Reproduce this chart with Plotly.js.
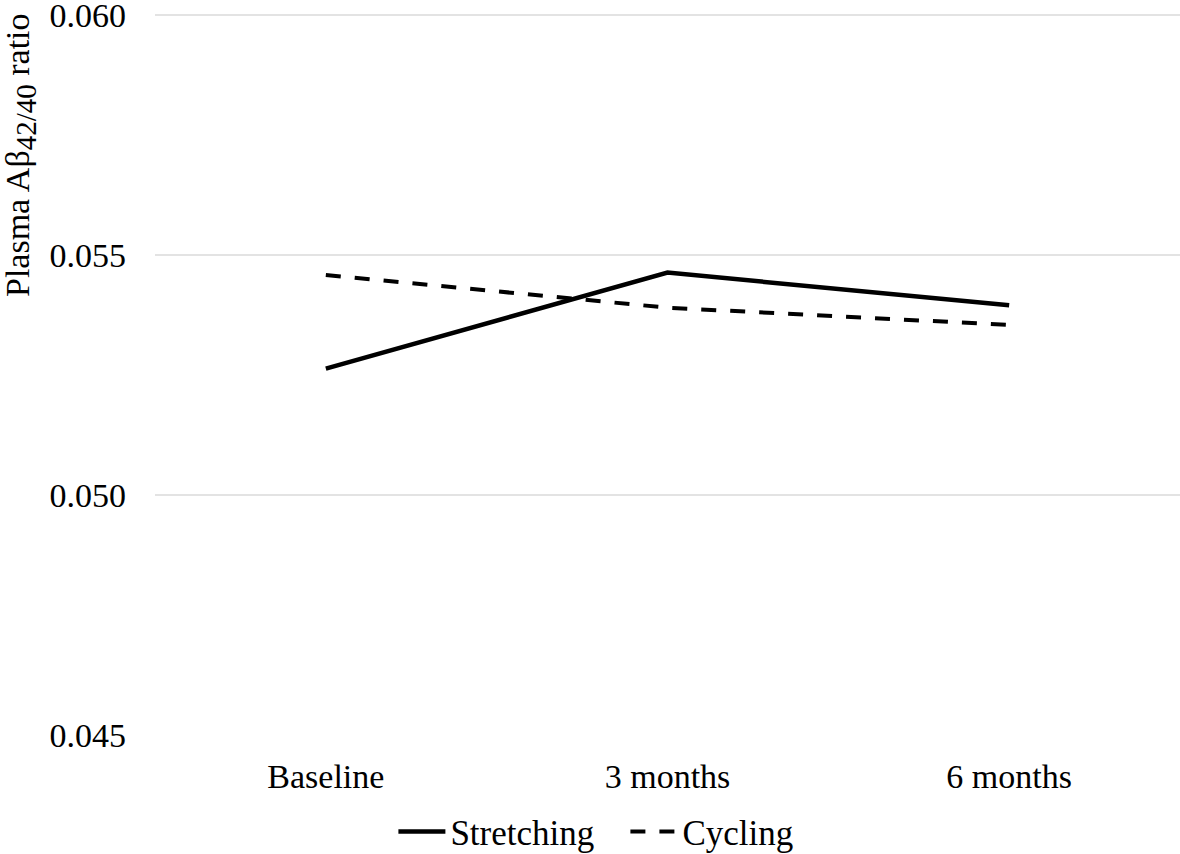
<!DOCTYPE html>
<html>
<head>
<meta charset="utf-8">
<script src="https://cdn.plot.ly/plotly-3.0.1.min.js"></script>
<style>html,body{margin:0;padding:0;background:#fff;}#chart{width:1180px;height:854px;}</style>
</head>
<body>
<div id="chart"></div>
<script>
const categories = ["Baseline", "3 months", "6 months"];
const stretching = [0.05263, 0.05463, 0.05395];
const cycling = [0.05458, 0.05390, 0.05354];
const yTicks = [0.045, 0.050, 0.055, 0.060];
const yTickLabels = ["0.045", "0.050", "0.055", "0.060"];

const font = "Liberation Serif, Times New Roman, serif";

const traces = [
  {x: categories, y: stretching, name: "Stretching", type: "scatter", mode: "lines",
   line: {color: "#000", width: 4.5}},
  {x: categories, y: cycling, name: "Cycling", type: "scatter", mode: "lines",
   line: {color: "#000", width: 4, dash: "15px,14px"}}
];

const layout = {
  width: 1180, height: 854,
  margin: {l: 155, r: 0, t: 10, b: 119},
  paper_bgcolor: "#fff", plot_bgcolor: "#fff",
  font: {family: font, size: 34, color: "#000"},
  showlegend: true,
  legend: {orientation: "h", xref: "container", yref: "container", x: 0.53, xanchor: "center",
           y: 0.026, yanchor: "middle", font: {family: font, size: 35, color: "#000"},
           itemwidth: 47, entrywidth: 170, tracegroupgap: 0},
  xaxis: {type: "category", range: [-0.5, 2.5], showgrid: false, zeroline: false, showline: false,
          ticks: "", ticklabelstandoff: 18, tickfont: {family: font, size: 34}},
  yaxis: {range: [0.045, 0.0601], tickvals: yTicks, ticktext: yTickLabels, showgrid: true,
          gridcolor: "#e3e3e3", gridwidth: 1.5, zeroline: false, showline: false, ticks: "",
          ticklabelstandoff: 28, ticklabeloverflow: "allow", tickfont: {family: font, size: 34}},
  annotations: [{
    text: "Plasma Aβ<sub><span style='font-size:29px'>42/40</span></sub> ratio", textangle: -90,
    xref: "paper", yref: "paper",
    x: 0, xshift: -134, y: 0.8, yanchor: "middle", xanchor: "center", showarrow: false,
    font: {family: font, size: 34, color: "#000"}
  }]
};

Plotly.newPlot("chart", traces, layout, {displayModeBar: false, staticPlot: true});
</script>
</body>
</html>
